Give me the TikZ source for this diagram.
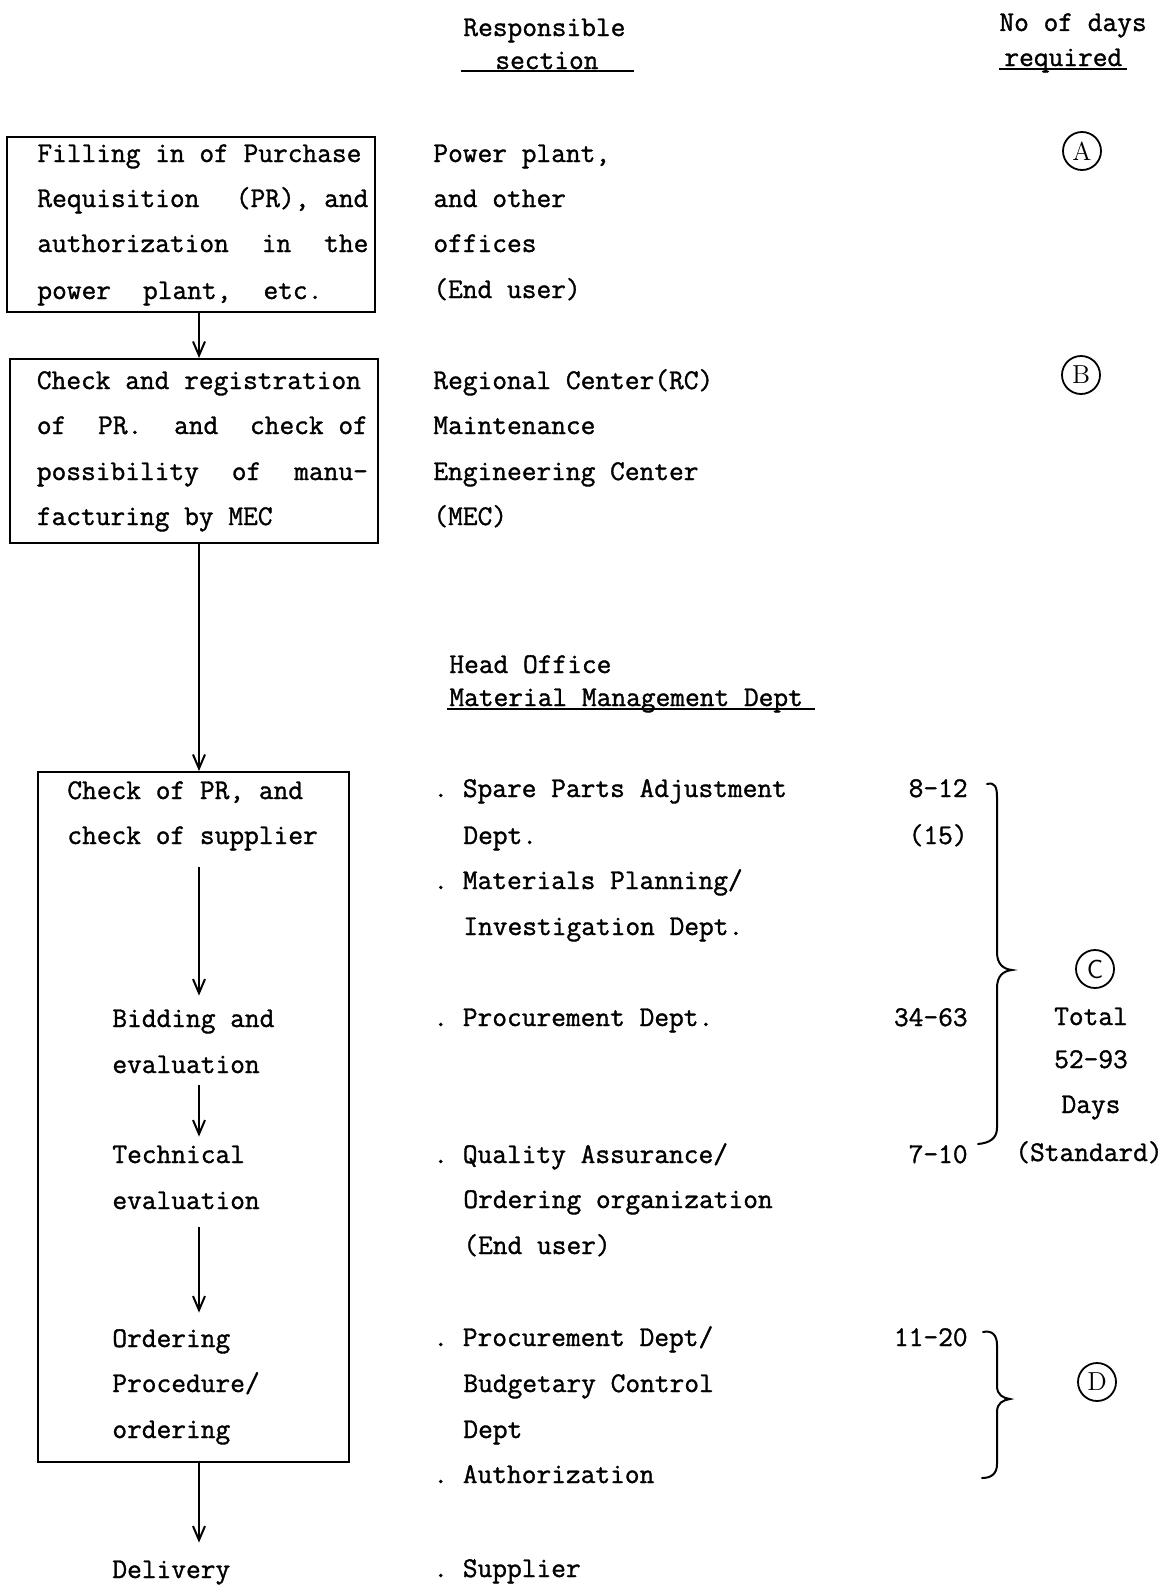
\documentclass[tikz,border=0pt]{standalone}
\usepackage{fontspec}
\usetikzlibrary{arrows.meta}
\newfontfamily\twfam{Latin Modern Mono}[FakeBold=1.2]
\newcommand{\tw}{\twfam\fontsize{14.3pt}{16pt}\selectfont}
\begin{document}
\begin{tikzpicture}[x=0.5pt,y=-0.5pt,
 txt/.style={anchor=west,inner sep=0pt,text height=8pt,text depth=0pt,font=\tw},
 ctxt/.style={txt,anchor=center},
 rtxt/.style={txt,anchor=east},
 boxx/.style={draw,line width=1pt,inner sep=0pt},
 arr/.style={line width=1pt,-{Straight Barb[length=7pt,width=6pt]}},
 circ/.style={draw,circle,line width=0.9pt,minimum size=19pt,inner sep=0pt,font=\rmfamily\fontsize{13pt}{13pt}\selectfont},
 brc/.style={line width=1pt,line cap=round},
 ul/.style={line width=0.9pt}]
\useasboundingbox (0,0) rectangle (1173,1590);
\coordinate (ax) at (199,0);

% headers
\node[txt] (h1) at (463,28) {Responsible};
\node[txt] (h2) at (495,61) {section};
\draw[ul] (461,71) -- (634,71);
\node[txt] (h3) at (999,23) {No of days};
\node[txt] (h4) at (1004,58) {required};
\draw[ul] (999,69) -- (1127,69);

% box 1
\node[boxx,minimum width=184pt,minimum height=87.5pt] (box1) at (191,224.5) {};
\node[txt] (b1a) at (37,154) {\makebox[165.5pt][l]{Filling in of Purchase}};
\node[txt] (b1b) at (37,199) {\makebox[165.5pt]{Requisition\hfill(PR),\ and}};
\node[txt] (b1c) at (37,244) {\makebox[165.5pt]{authorization\hfill in\hfill the}};
\node[txt] (b1d) at (37,291) {\makebox[142.5pt]{power\hfill plant,\hfill etc.}};

% box 2
\node[boxx,minimum width=184pt,minimum height=92pt] (box2) at (194,451) {};
\node[txt] (b2a) at (36.5,381) {\makebox[165.5pt][l]{Check and registration}};
\node[txt] (b2b) at (36.5,426) {\makebox[165.5pt]{of\hfill PR.\hfill and\hfill check\ of}};
\node[txt] (b2c) at (36.5,472) {\makebox[165.5pt]{possibility\hfill of\hfill manu-}};
\node[txt] (b2d) at (36.5,517) {facturing by MEC};

% box 3
\node[boxx,minimum width=155.5pt,minimum height=345pt] (box3) at (193.5,1117) {};
\node[txt] (c1) at (67,791) {Check of PR, and};
\node[txt] (c2) at (67,836) {check of supplier};
\node[txt] (bid1) at (112,1019) {Bidding and};
\node[txt] (bid2) at (112,1065) {evaluation};
\node[txt] (tec1) at (112,1155) {Technical};
\node[txt] (tec2) at (112,1201) {evaluation};
\node[txt] (ord1) at (112,1339) {Ordering};
\node[txt] (ord2) at (112,1384) {Procedure/};
\node[txt] (ord3) at (112,1430) {ordering};
\node[txt] (dlv) at (112,1570) {Delivery};

% arrows
\draw[arr] (box1.south -| ax) -- (box2.north -| ax);
\draw[arr] (box2.south -| ax) -- (box3.north -| ax);
\draw[arr,shorten <=11.5pt,shorten >=7.5pt] (c2.south -| ax) -- (bid1.north -| ax);
\draw[arr,shorten <=6pt,shorten >=5pt] (bid2.south -| ax) -- (tec1.north -| ax);
\draw[arr,shorten <=9pt,shorten >=9pt] (tec2.south -| ax) -- (ord1.north -| ax);
\draw[arr,shorten >=9.5pt] (box3.south -| ax) -- (dlv.north -| ax);

% middle column
\node[txt] (m1) at (433,154) {Power plant,};
\node[txt] (m2) at (433,199) {and other};
\node[txt] (m3) at (433,244) {offices};
\node[txt] (m4) at (433,290) {(End user)};
\node[txt] (m5) at (433,381) {Regional Center(RC)};
\node[txt] (m6) at (433,426) {Maintenance};
\node[txt] (m7) at (433,472) {Engineering Center};
\node[txt] (m8) at (433,517) {(MEC)};
\node[txt] (ho1) at (449,665) {Head Office};
\node[txt] (ho2) at (449,698) {Material Management Dept};
\draw[ul] (447,709) -- (815,709);
\node[txt] (s1) at (433,789) {.\ Spare Parts Adjustment};
\node[txt] (s2) at (463,836) {Dept.};
\node[txt] (s3) at (433,881) {.\ Materials Planning/};
\node[txt] (s4) at (463,927) {Investigation Dept.};
\node[txt] (s5) at (433,1018) {.\ Procurement Dept.};
\node[txt] (s6) at (433,1155) {.\ Quality Assurance/};
\node[txt] (s7) at (463,1200) {Ordering organization};
\node[txt] (s8) at (463,1246) {(End user)};
\node[txt] (s9) at (433,1338) {.\ Procurement Dept/};
\node[txt] (s10) at (463,1384) {Budgetary Control};
\node[txt] (s11) at (463,1430) {Dept};
\node[txt] (s12) at (433,1475) {.\ Authorization};
\node[txt] (s13) at (433,1569) {.\ Supplier};

% days column
\node[rtxt] (d1) at (968,789) {8-12};
\node[rtxt] (d2) at (968,836) {(15)};
\node[rtxt] (d3) at (968,1018) {34-63};
\node[rtxt] (d4) at (968,1155) {7-10};
\node[rtxt] (d5) at (968,1338) {11-20};

\node[circ] (cA) at (1082,151) {A};
\node[circ] (cB) at (1081,375) {B};
\node[circ,font=\sffamily\fontsize{13pt}{13pt}\selectfont] (cC) at (1095,969) {C};
\node[circ] (cD) at (1097,1382) {D};

\node[ctxt] (t1) at (1091,1017) {Total};
\node[ctxt] (t2) at (1091,1060) {52-93};
\node[ctxt] (t3) at (1091,1105) {Days};
\node[ctxt] (t4) at (1089,1153) {(Standard)};

% braces
\draw[brc] (987,784) .. controls (995,782) and (997,787) .. (997,797) -- (997,952)
  .. controls (997,964) and (1003,969) .. (1012,970)
  .. controls (1003,971) and (997,976) .. (997,988) -- (997,1128)
  .. controls (997,1138) and (990,1143) .. (978,1144);
\draw[brc] (983,1332) .. controls (992,1330) and (997,1335) .. (997,1345) -- (997,1386)
  .. controls (997,1395) and (1003,1398) .. (1010,1399)
  .. controls (1003,1400) and (997,1403) .. (997,1412) -- (997,1464)
  .. controls (997,1474) and (991,1478) .. (982,1478);
\end{tikzpicture}
\end{document}
